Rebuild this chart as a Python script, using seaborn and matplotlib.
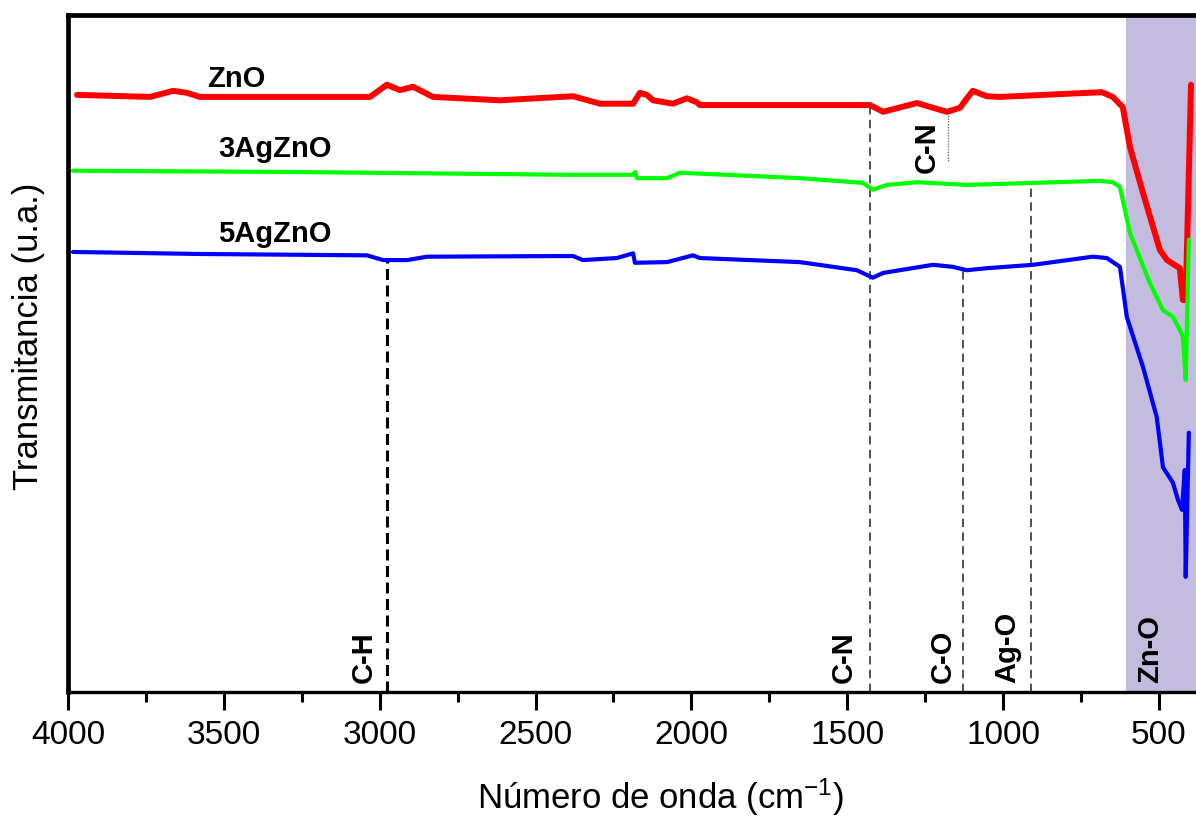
import matplotlib
matplotlib.use("Agg")
import matplotlib.pyplot as plt
import seaborn as sns
import pandas as pd
from matplotlib.ticker import MultipleLocator

# ---------------- data ----------------
zno_wn = [3971, 3737, 3663, 3618, 3577, 3256, 3031, 2977, 2935, 2893, 2829, 2614,
          2380, 2293, 2187, 2165, 2143, 2123, 2059, 2014, 1982, 1973, 1652, 1427,
          1385, 1276, 1225, 1180, 1138, 1116, 1097, 1052, 1010, 683, 648, 616,
          593, 551, 497, 474, 433, 423, 414, 397]
zno_t = [88.2, 87.9, 88.8, 88.5, 87.9, 87.9, 87.9, 89.7, 88.9, 89.4, 87.9, 87.4,
         88.0, 86.9, 86.9, 88.5, 88.2, 87.4, 86.9, 87.7, 87.1, 86.7, 86.7, 86.7,
         85.7, 87.0, 86.3, 85.7, 86.3, 87.7, 88.8, 88.0, 87.9, 88.6, 87.9, 86.4,
         80.5, 73.7, 65.3, 63.8, 62.6, 57.9, 57.9, 89.7]

ag3_wn = [3984, 3256, 2399, 2187, 2181, 2175, 2078, 2037, 1652, 1450, 1418, 1373,
          1276, 1116, 904, 689, 648, 625, 593, 529, 487, 455, 433, 423, 414, 404]
ag3_t = [77.0, 76.8, 76.4, 76.4, 76.8, 75.9, 75.9, 76.7, 75.9, 75.2, 74.2, 74.9,
         75.3, 74.9, 75.2, 75.5, 75.3, 74.6, 67.8, 60.4, 56.4, 55.4, 53.5, 52.4,
         46.1, 66.8]

ag5_wn = [3984, 3577, 3041, 2989, 2912, 2848, 2380, 2348, 2239, 2187, 2181, 2078,
          1995, 1973, 1652, 1469, 1418, 1385, 1225, 1161, 1116, 1052, 904, 712,
          667, 625, 603, 551, 507, 487, 455, 439, 426, 417, 414, 404]
ag5_t = [65.0, 64.7, 64.5, 63.8, 63.8, 64.3, 64.4, 63.8, 64.1, 64.8, 63.4, 63.5,
         64.5, 64.1, 63.5, 62.3, 61.2, 61.9, 63.1, 62.8, 62.3, 62.6, 63.1, 64.3,
         64.1, 62.8, 55.4, 48.0, 40.6, 33.2, 30.9, 28.4, 26.9, 32.8, 17.0, 38.3]

series_names = ["ZnO", "3AgZnO", "5AgZnO"]
series_colors = ["#ff0000", "#00ff00", "#0000ff"]
series_label_wn = [3554, 3519, 3519]
series_label_t = [89.4, 79.0, 66.5]

# band assignment lines: position, top of line (on curve)
band_names = ["C-H", "C-N", "C-O", "Ag-O"]
band_wn = [2977, 1427, 1128, 911]
band_top = [64.1, 86.7, 62.6, 75.0]
band_label_wn = [3050, 1511, 1193, 988]

upper_cn_wn = 1178
upper_cn_range = [78.4, 85.5]
upper_cn_label_wn = 1244
upper_cn_label_t = 76.7

zno_band = [606, 370]
zno_band_label_wn = 529

xticks = [4000, 3500, 3000, 2500, 2000, 1500, 1000, 500]

# ---------------- style ----------------
sns.set_style("ticks")
plt.rcParams["font.family"] = ["Liberation Sans", "DejaVu Sans"]
plt.rcParams["mathtext.fontset"] = "custom"
plt.rcParams["mathtext.rm"] = "Liberation Sans"
plt.rcParams["mathtext.it"] = "Liberation Sans:italic"
plt.rcParams["mathtext.bf"] = "Liberation Sans:bold"
plt.rcParams["text.color"] = "black"
plt.rcParams["axes.labelcolor"] = "black"
plt.rcParams["xtick.color"] = "black"
plt.rcParams["ytick.color"] = "black"

fig = plt.figure(figsize=(11.96, 8.26), dpi=100)
ax = fig.add_axes([68 / 1196, 134 / 826, 1128 / 1196, 677 / 826])

ax.axvspan(zno_band[0], zno_band[1], color="#c3bcde", lw=0, zorder=0)

data = [(zno_wn, zno_t), (ag3_wn, ag3_t), (ag5_wn, ag5_t)]
widths = [4.3, 3.0, 3.0]
for (wn, t), name, col, lw in zip(data, series_names, series_colors, widths):
    df = pd.DataFrame({"wn": wn, "t": t})
    sns.lineplot(data=df, x="wn", y="t", sort=False, estimator=None,
                 color=col, lw=lw, ax=ax, zorder=3)

for name, lx, ly in zip(series_names, series_label_wn, series_label_t):
    ax.text(lx, ly, name, fontsize=21, fontweight="bold", ha="left",
            va="baseline", color="black")

# band lines
for i, (name, wn, top, lwn) in enumerate(zip(band_names, band_wn, band_top, band_label_wn)):
    if name == "C-H":
        ax.plot([wn, wn], [0, top], color="black", lw=2.2,
                linestyle=(0, (3.6, 1.8)), zorder=2)
    else:
        ax.plot([wn, wn], [0, top], color="#222222", lw=1.1,
                linestyle=(0, (5.5, 3.5)), zorder=2)
    ax.text(lwn, 1.3, name, rotation=90, fontsize=21, fontweight="bold",
            ha="center", va="bottom", color="black")

ax.plot([upper_cn_wn, upper_cn_wn], upper_cn_range, color="#777777", lw=1.0,
        linestyle=(0, (1, 1)), zorder=2)
ax.text(upper_cn_label_wn, upper_cn_label_t, "C-N", rotation=90, fontsize=21,
        fontweight="bold", ha="center", va="bottom", color="black")
ax.text(zno_band_label_wn, 1.3, "Zn-O", rotation=90, fontsize=21,
        fontweight="bold", ha="center", va="bottom", color="black")

# axes
ax.set_xlim(4000, 381)
ax.set_ylim(0, 100)
ax.set_xticks(xticks)
ax.set_xticklabels([str(v) for v in xticks])
ax.xaxis.set_minor_locator(MultipleLocator(250))
ax.set_yticks([])
ax.tick_params(axis="x", which="major", direction="out", length=13, width=2.2,
               labelsize=24, pad=7, colors="black")
ax.tick_params(axis="x", which="minor", direction="out", length=7, width=2.2,
               bottom=True, colors="black")
for s in ["left", "top"]:
    ax.spines[s].set_linewidth(3.4)
    ax.spines[s].set_color("black")
ax.spines["bottom"].set_linewidth(2.4)
ax.spines["bottom"].set_color("black")
ax.spines["right"].set_visible(False)

ax.set_xlabel("Número de onda (cm$^{\\mathrm{-1}}$)", fontsize=25, color="black")
ax.set_ylabel("Transmitancia (u.a.)", fontsize=25, color="black")
ax.xaxis.set_label_coords(0.525, -0.125)
ax.yaxis.set_label_coords(-0.02, 0.525)

fig.savefig("out.png", dpi=100)
